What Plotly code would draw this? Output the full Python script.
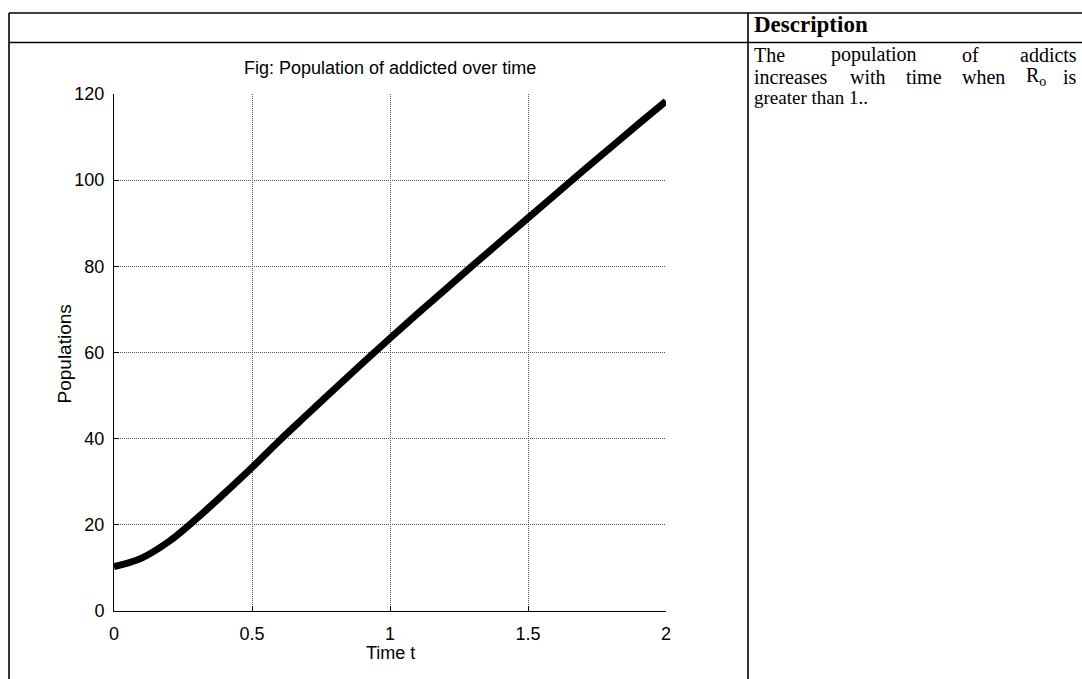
import plotly.graph_objects as go

# ---- data ----
time_t = [0.0, 0.1, 0.2, 0.3, 0.4, 0.5, 0.6, 0.7, 0.8, 0.9, 1.0,
          1.1, 1.2, 1.3, 1.4, 1.5, 1.6, 1.7, 1.8, 1.9, 2.0]
population = [10.3, 12.3, 16.2, 21.5, 27.3, 33.3, 39.6, 45.6, 51.6, 57.5, 63.3,
              69.0, 74.6, 80.2, 85.7, 91.2, 96.7, 102.2, 107.6, 113.0, 118.3]
x_ticks = [0, 0.5, 1, 1.5, 2]
x_tick_labels = ["0", "0.5", "1", "1.5", "2"]
y_ticks = [0, 20, 40, 60, 80, 100, 120]
y_tick_labels = ["0", "20", "40", "60", "80", "100", "120"]
title_text = "Fig: Population of addicted over time"
x_title = "Time t"
y_title = "Populations"
header_text = "Description"
desc_line1 = ["The", "population", "of", "addicts"]
desc_line2 = ["increases", "with", "time", "when", "R<sub>o</sub>", "is"]
desc_line3 = "greater than 1.."

W, H = 1082, 679
# calibration between layout fractions and photographed pixels
OX, OY, EW, EH = 5.0, 9.0, 1072.0, 660.0
def fx(px):
    return (px - OX) / EW
def fy(py):
    return 1 - (py - OY) / EH

SANS = "Liberation Sans, Arial, sans-serif"
SERIF = "Liberation Serif, Times New Roman, serif"
FS = 18

fig = go.Figure()
fig.add_trace(go.Scatter(
    x=time_t, y=population, mode="lines",
    line=dict(color="black", width=7, shape="spline"),
    showlegend=False, hoverinfo="skip"))

grid = dict(showgrid=True, gridcolor="#555555", gridwidth=1, griddash="1px,1px")
fig.update_layout(
    width=W, height=H,
    margin=dict(l=0, r=0, t=0, b=0),
    paper_bgcolor="white", plot_bgcolor="white",
    xaxis=dict(domain=[fx(114), fx(666)], range=[0, 2], tickvals=x_ticks,
               ticktext=x_tick_labels, ticks="inside", ticklen=5, tickcolor="black",
               showline=True, linecolor="black", linewidth=1, mirror=False,
               zeroline=False, ticklabelstandoff=6,
               tickfont=dict(family=SANS, size=FS, color="black"), **grid),
    yaxis=dict(domain=[fy(611), fy(93)], range=[0, 120], tickvals=y_ticks,
               ticktext=y_tick_labels, ticks="inside", ticklen=5, tickcolor="black",
               showline=True, linecolor="black", linewidth=1, mirror=False,
               zeroline=False, ticklabelstandoff=5,
               tickfont=dict(family=SANS, size=FS, color="black"), **grid),
)

ann = []
ann.append(dict(text=title_text, x=fx(390), y=fy(67), xref="paper", yref="paper",
                showarrow=False, xanchor="center", yanchor="middle",
                font=dict(family=SANS, size=FS, color="black")))
ann.append(dict(text=x_title, x=fx(390), y=fy(653), xref="paper", yref="paper",
                showarrow=False, xanchor="center", yanchor="middle",
                font=dict(family=SANS, size=FS, color="black")))
ann.append(dict(text=y_title, x=fx(64), y=fy(354), xref="paper", yref="paper",
                showarrow=False, xanchor="center", yanchor="middle", textangle=-90,
                font=dict(family=SANS, size=19, color="black")))

# description column (justified text)
ann.append(dict(text="<b>" + header_text + "</b>", x=fx(752), y=fy(24), xref="paper",
                yref="paper", showarrow=False, xanchor="left", yanchor="middle",
                font=dict(family=SERIF, size=23, color="black")))
line1_x = [752, 829, 960, 1079]
for i, (w, px) in enumerate(zip(desc_line1, line1_x)):
    ann.append(dict(text=w, x=fx(px), y=fy(54), xref="paper", yref="paper",
                    showarrow=False,
                    xanchor="right" if i == len(desc_line1) - 1 else "left",
                    yanchor="middle", font=dict(family=SERIF, size=20, color="black")))
line2_x = [752, 848, 904, 960, 1024, 1079]
for i, (w, px) in enumerate(zip(desc_line2, line2_x)):
    ann.append(dict(text=w, x=fx(px), y=fy(76), xref="paper", yref="paper",
                    showarrow=False,
                    xanchor="right" if i == len(desc_line2) - 1 else "left",
                    yanchor="middle", font=dict(family=SERIF, size=20, color="black")))
ann.append(dict(text=desc_line3, x=fx(752), y=fy(97), xref="paper", yref="paper",
                showarrow=False, xanchor="left", yanchor="middle",
                font=dict(family=SERIF, size=19, color="black")))
fig.update_layout(annotations=ann)

# table borders
bw = 1.6
shapes = [
    dict(type="line", x0=fx(9), x1=1.02, y0=fy(12), y1=fy(12)),
    dict(type="line", x0=fx(9), x1=1.02, y0=fy(41.5), y1=fy(41.5)),
    dict(type="line", x0=fx(9), x1=fx(9), y0=fy(12), y1=-0.05),
    dict(type="line", x0=fx(748), x1=fx(748), y0=fy(12), y1=-0.05),
]
for s in shapes:
    s.update(xref="paper", yref="paper", line=dict(color="black", width=bw))
fig.update_layout(shapes=shapes)

fig.write_html(
    "out.html",
    config={"displayModeBar": False},
    post_script="document.body.style.margin='0';"
                "document.documentElement.style.overflow='hidden';",
)
